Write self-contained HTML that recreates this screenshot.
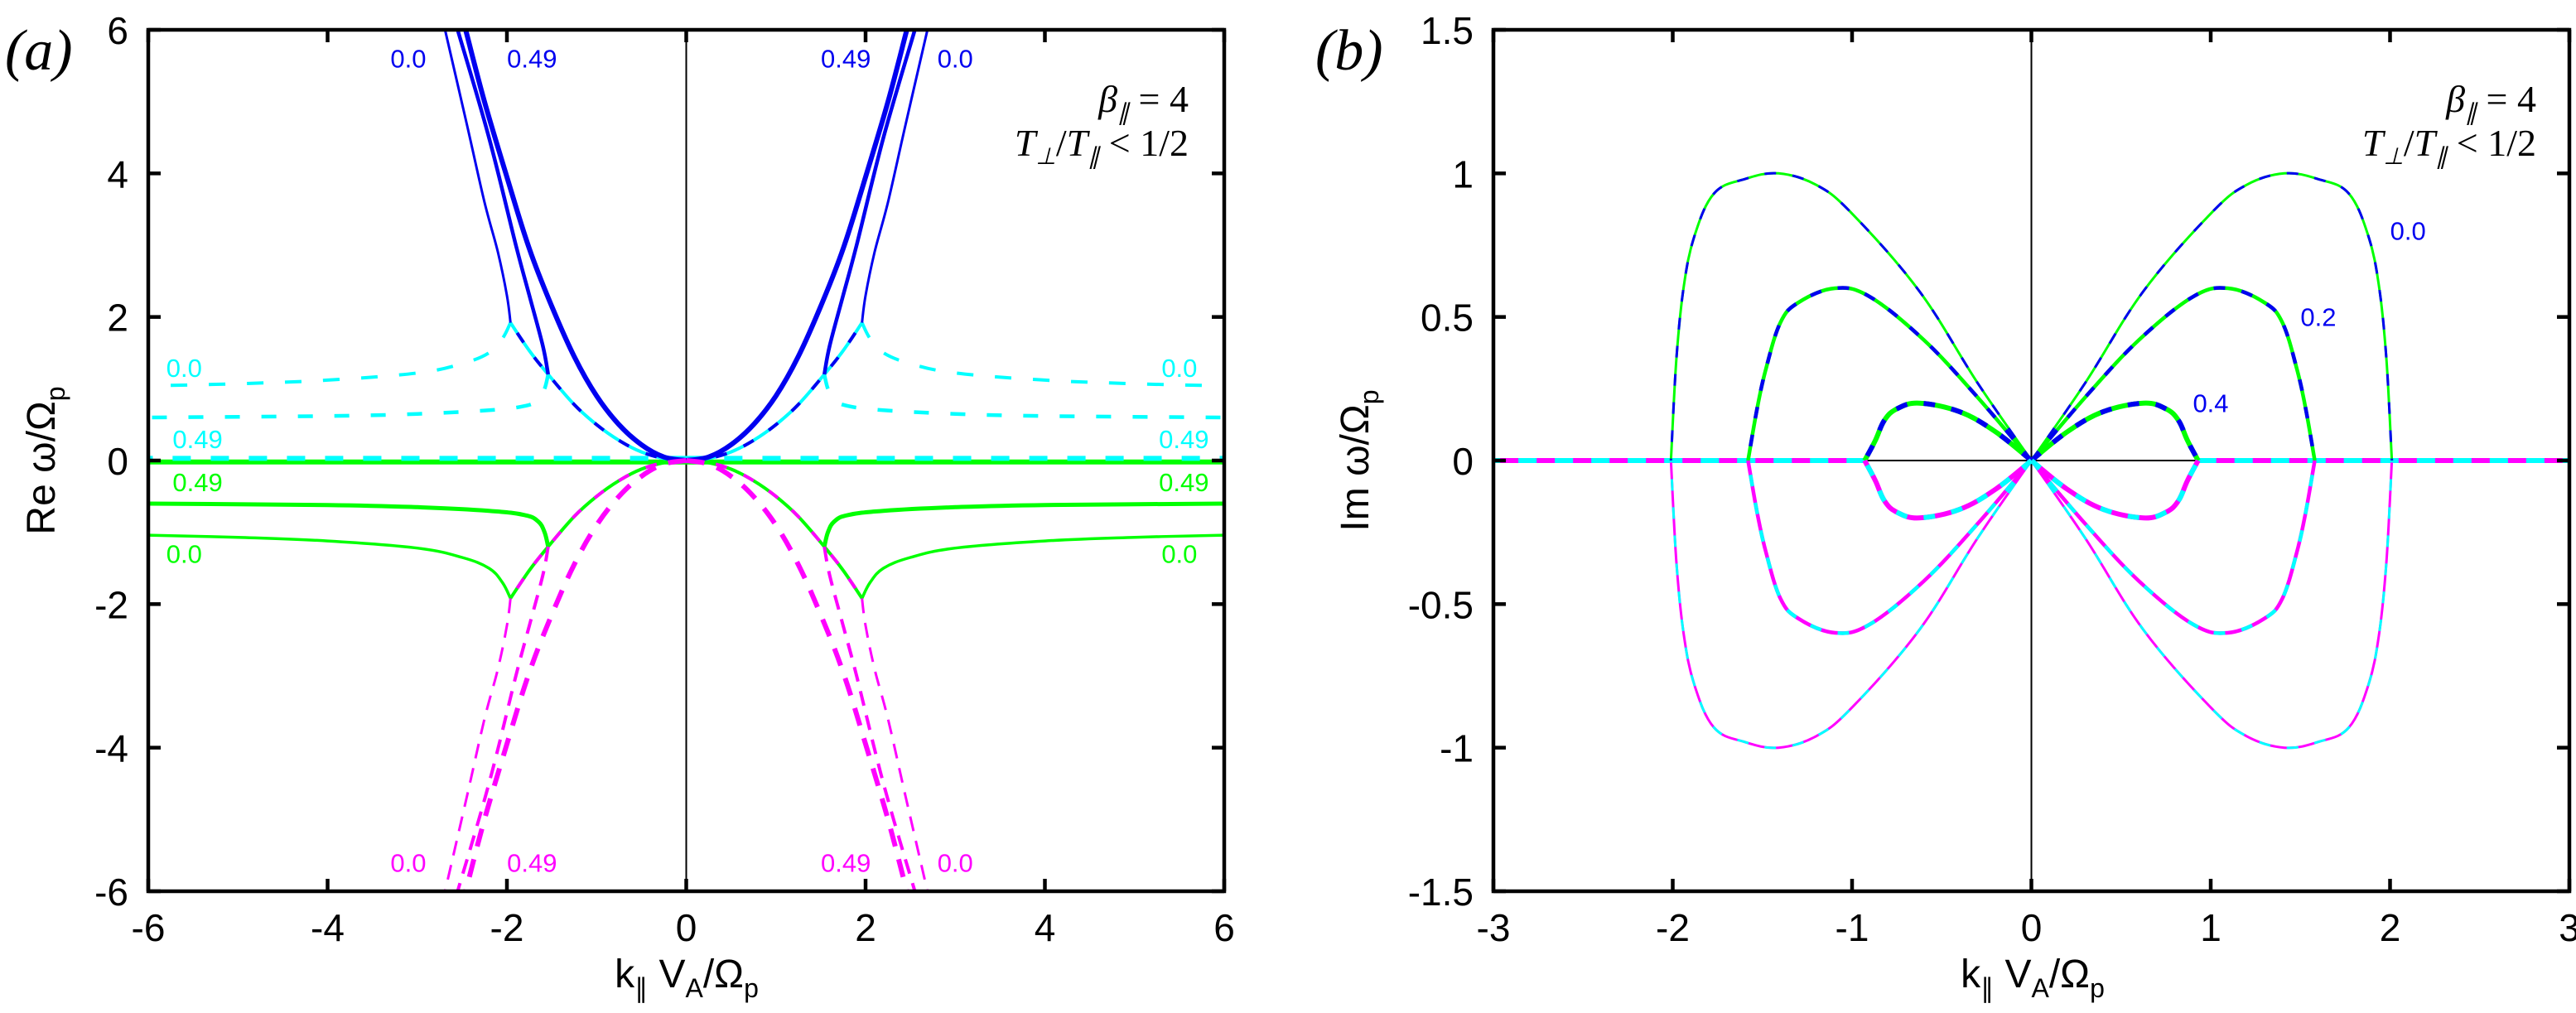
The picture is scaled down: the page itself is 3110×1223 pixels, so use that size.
<!DOCTYPE html>
<html><head><meta charset="utf-8">
<style>
html,body{margin:0;padding:0;background:#fff;}
svg{display:block;}
text{font-family:"Liberation Sans",sans-serif;}
.serif{font-family:"Liberation Serif",serif;font-style:italic;}
</style></head>
<body>
<svg id="fig" width="3110" height="1223" viewBox="0 0 3110 1223" xmlns="http://www.w3.org/2000/svg">
<defs>
<clipPath id="clipA"><rect x="179" y="36" width="1299" height="1040"/></clipPath>
<clipPath id="clipB"><rect x="1803" y="36" width="1299" height="1040"/></clipPath>
</defs>
<g id="gA"></g>
<g id="gB"></g>
</svg>
<script>
// ---- Panel (a) data (right half, mirrored for x<0) ----
const aXTicks=[-6,-4,-2,0,2,4,6];
const aYTicks=[-6,-4,-2,0,2,4,6];
const thickX=[0,0.25,0.5,0.75,1,1.25,1.5,1.75,2,2.25,2.45,2.5];
const thickY=[0,0.05,0.22,0.5,0.9,1.45,2.15,2.95,3.95,5.0,5.95,6.2];
const parX=[0,0.25,0.5,0.75,1,1.25,1.54,1.75,1.96];
const parY=[0,0.03,0.12,0.28,0.5,0.78,1.2,1.53,1.92];
const midX=[1.54,1.6,1.75,1.9,2.2,2.55];
const midY=[1.2,1.6,2.3,3.0,4.5,6];
const thinX=[1.96,2.0,2.1,2.25,2.45,2.69];
const thinY=[1.92,2.3,2.9,3.6,4.7,6];
const cyThinX=[1.96,2.05,2.2,2.5,3,4,5,6];
const cyThinY=[1.92,1.7,1.5,1.35,1.22,1.12,1.07,1.04];
const cyMidX=[1.54,1.58,1.65,1.8,2.2,3,4,6];
const cyMidY=[1.2,1.0,0.85,0.76,0.7,0.65,0.62,0.6];
const flatCyanY=0.03, flatGreenY=-0.02;
// ---- Panel (b) data ----
const bXTicks=[-3,-2,-1,0,1,2,3];
const bYTicks=[-1.5,-1,-0.5,0,0.5,1,1.5];
const lobe0X=[0,0.3,0.625,1.0,1.2,1.41,1.6,1.77,1.88,1.94,1.98,2.01];
const lobe0Y=[0,0.27,0.59,0.86,0.96,1.0,0.98,0.93,0.78,0.6,0.35,0];
const lobe2X=[0,0.3,0.6,0.9,1.095,1.3,1.4,1.48,1.53,1.58];
const lobe2Y=[0,0.22,0.42,0.57,0.6,0.55,0.48,0.32,0.18,0];
const lobe4X=[0,0.2,0.4,0.625,0.75,0.82,0.87,0.93];
const lobe4Y=[0,0.1,0.17,0.2,0.18,0.14,0.07,0];

const NS="http://www.w3.org/2000/svg";
const BLUE="#0000f0",CYAN="#00ffff",GREEN="#00ff00",MAG="#ff00ff";
function mk(tag,attrs,parent){const e=document.createElementNS(NS,tag);for(const k in attrs)e.setAttribute(k,attrs[k]);parent.appendChild(e);return e;}

function panel(g,x0,x1,y0,y1,xmin,xmax,ymin,ymax,clip){
  const sx=v=>x0+(v-xmin)/(xmax-xmin)*(x1-x0);
  const sy=v=>y1-(v-ymin)/(ymax-ymin)*(y1-y0);
  const plot=mk('g',{'clip-path':'url(#'+clip+')'},g);
  
  
  return {sx,sy,plot};
}
function smoothPath(pts){
  let d='M'+pts[0][0].toFixed(1)+','+pts[0][1].toFixed(1);
  for(let i=0;i<pts.length-1;i++){
    const p0=pts[Math.max(0,i-1)],p1=pts[i],p2=pts[i+1],p3=pts[Math.min(pts.length-1,i+2)];
    const t=0.18;
    const c1=[p1[0]+(p2[0]-p0[0])*t,p1[1]+(p2[1]-p0[1])*t];
    const c2=[p2[0]-(p3[0]-p1[0])*t,p2[1]-(p3[1]-p1[1])*t];
    d+='C'+c1[0].toFixed(1)+','+c1[1].toFixed(1)+' '+c2[0].toFixed(1)+','+c2[1].toFixed(1)+' '+p2[0].toFixed(1)+','+p2[1].toFixed(1);
  }
  return d;
}
function line(P,xs,ys,sgnX,sgnY,color,w,dash,name){
  const pts=xs.map((x,i)=>[P.sx(sgnX*x),P.sy(sgnY*ys[i])]);
  const a={d:smoothPath(pts),fill:'none',stroke:color,'stroke-width':w,'stroke-linejoin':'round'};
  if(dash)a['stroke-dasharray']=dash;
  const e=mk('path',a,P.plot);
  
  
  return e;
}
function axes(g,P,x0,x1,y0,y1,xt,yt,fmt){
  const fr=mk('rect',{x:x0,y:y0,width:x1-x0,height:y1-y0,fill:'none',stroke:'#000','stroke-width':4.5},g);
  
  
  xt.forEach(v=>{
    const X=P.sx(v);
    mk('line',{x1:X,y1:y1,x2:X,y2:y1-15,stroke:'#000','stroke-width':4.5},g);
    mk('line',{x1:X,y1:y0,x2:X,y2:y0+15,stroke:'#000','stroke-width':4.5},g);
    const t=mk('text',{x:X,y:y1+60,'font-size':46,'text-anchor':'middle'},g);
    t.textContent=fmt(v);
    
    
  });
  yt.forEach(v=>{
    const Y=P.sy(v);
    mk('line',{x1:x0,y1:Y,x2:x0+15,y2:Y,stroke:'#000','stroke-width':4.5},g);
    mk('line',{x1:x1,y1:Y,x2:x1-15,y2:Y,stroke:'#000','stroke-width':4.5},g);
    const t=mk('text',{x:x0-24,y:Y+17,'font-size':46,'text-anchor':'end'},g);
    t.textContent=fmt(v);
    
    
  });
}
function label(g,P,x,y,txt,color,name){
  const t=mk('text',{x:P.sx(x),y:P.sy(y)+11,'font-size':31,'text-anchor':'middle',fill:color},g);
  t.textContent=txt;
  
  
}
function annot(g,xr){
  const t1=mk('text',{x:xr,y:135,'font-size':46,'text-anchor':'end',class:'serif'},g);
  t1.innerHTML='β<tspan font-size="28" dy="10">∥</tspan><tspan dy="-10" font-style="normal"> = 4</tspan>';
  
  
  const t2=mk('text',{x:xr,y:188,'font-size':46,'text-anchor':'end',class:'serif'},g);
  t2.innerHTML='T<tspan font-size="28" dy="10">⊥</tspan><tspan dy="-10" font-style="normal">/</tspan>T<tspan font-size="28" dy="10">∥</tspan><tspan dy="-10" font-style="normal"> &lt; 1/2</tspan>';
  
  
}
function titles(g,cx,cy,xlab,ytext){
  const xt=mk('text',{x:cx,y:1192,'font-size':48,'text-anchor':'middle'},g);
  xt.innerHTML='k<tspan font-size="32" dy="12">∥</tspan><tspan dy="-12"> V</tspan><tspan font-size="32" dy="12">A</tspan><tspan dy="-12">/Ω</tspan><tspan font-size="32" dy="12">p</tspan>';
  
  
  const yt=mk('text',{x:0,y:0,'font-size':48,'text-anchor':'middle',transform:'translate('+xlab+','+cy+') rotate(-90)'},g);
  yt.innerHTML=ytext+'  ω/Ω<tspan font-size="32" dy="12">p</tspan>';
  
  
}

// ===== Panel A =====
const gA=document.getElementById('gA');
const A=panel(gA,179,1478,36,1076,-6,6,-6,6,'clipA');
mk('line',{x1:A.sx(0),y1:36,x2:A.sx(0),y2:1076,stroke:'#000','stroke-width':2},A.plot);
[1,-1].forEach(s=>{
  line(A,[0,6],[flatGreenY,flatGreenY],s,1,GREEN,6,null,'green-flat-0.49');
  line(A,[0,6],[flatCyanY,flatCyanY],s,1,CYAN,6,'22,24','cyan-flat-0.49');
  line(A,cyThinX,cyThinY,s,1,CYAN,4,'20,26','cyan-dashed-0.0');
  line(A,cyMidX,cyMidY,s,1,CYAN,4.5,'18,26','cyan-dashed-mid');
  line(A,cyThinX,cyThinY,s,-1,GREEN,3.5,null,'green-solid-0.0');
  line(A,cyMidX,cyMidY,s,-1,GREEN,5,null,'green-solid-mid');
  line(A,parX,parY,s,1,CYAN,4,null,'cyan-parabola');
  line(A,parX,parY,s,1,BLUE,4,'14,22','blue-parabola-dashed');
  line(A,parX,parY,s,-1,GREEN,4,null,'green-parabola');
  line(A,parX,parY,s,-1,MAG,4,'14,22','magenta-parabola-dashed');
  line(A,thickX,thickY,s,1,BLUE,6,null,'blue-solid-0.49');
  line(A,midX,midY,s,1,BLUE,4.5,null,'blue-solid-mid');
  line(A,thinX,thinY,s,1,BLUE,3,null,'blue-solid-0.0');
  line(A,thickX,thickY,s,-1,MAG,6,'22,16','magenta-dashed-0.49');
  line(A,midX,midY,s,-1,MAG,4,'18,12','magenta-dashed-mid');
  line(A,thinX,thinY,s,-1,MAG,3,'18,12','magenta-dashed-0.0');
});
axes(gA,A,179,1478,36,1076,aXTicks,aYTicks,v=>String(v));
label(gA,A,-3.1,5.6,'0.0',BLUE,'label-blue-0.0');
label(gA,A,-1.72,5.6,'0.49',BLUE,'label-blue-0.49');
label(gA,A,1.78,5.6,'0.49',BLUE,'label-blue-0.49');
label(gA,A,3.0,5.6,'0.0',BLUE,'label-blue-0.0');
label(gA,A,-5.6,1.29,'0.0',CYAN,'label-cyan-0.0');
label(gA,A,5.5,1.29,'0.0',CYAN,'label-cyan-0.0');
label(gA,A,-5.45,0.3,'0.49',CYAN,'label-cyan-0.49');
label(gA,A,5.55,0.3,'0.49',CYAN,'label-cyan-0.49');
label(gA,A,-5.45,-0.3,'0.49',GREEN,'label-green-0.49');
label(gA,A,5.55,-0.3,'0.49',GREEN,'label-green-0.49');
label(gA,A,-5.6,-1.3,'0.0',GREEN,'label-green-0.0');
label(gA,A,5.5,-1.3,'0.0',GREEN,'label-green-0.0');
label(gA,A,-3.1,-5.6,'0.0',MAG,'label-magenta-0.0');
label(gA,A,-1.72,-5.6,'0.49',MAG,'label-magenta-0.49');
label(gA,A,1.78,-5.6,'0.49',MAG,'label-magenta-0.49');
label(gA,A,3.0,-5.6,'0.0',MAG,'label-magenta-0.0');
annot(gA,1435);
titles(gA,829,556,66,'Re');
const pa=mk('text',{x:6,y:84,'font-size':70,class:'serif'},gA);
pa.textContent='(a)';



// ===== Panel B =====
const gB=document.getElementById('gB');
const B=panel(gB,1803,3102,36,1076,-3,3,-1.5,1.5,'clipB');
mk('line',{x1:B.sx(0),y1:36,x2:B.sx(0),y2:1076,stroke:'#000','stroke-width':2},B.plot);
mk('line',{x1:B.sx(-1),y1:B.sy(0),x2:B.sx(1),y2:B.sy(0),stroke:'#000','stroke-width':2},B.plot);
[1,-1].forEach(s=>{
  line(B,[0.93,3],[0,0],s,1,MAG,6,null,'magenta-zero-line');
  line(B,[0.93,3],[0,0],s,1,CYAN,6,'22,22','cyan-zero-dashed');
  [[lobe0X,lobe0Y,3,'0.0'],[lobe2X,lobe2Y,4.5,'0.2'],[lobe4X,lobe4Y,6,'0.4']].forEach(L=>{
    line(B,L[0],L[1],s,1,GREEN,L[2],null,'green-lobe-'+L[3]);
    line(B,L[0],L[1],s,1,BLUE,L[2],'14,20','blue-lobe-dashed-'+L[3]);
    line(B,L[0],L[1],s,-1,MAG,L[2],null,'magenta-lobe-'+L[3]);
    line(B,L[0],L[1],s,-1,CYAN,L[2],'14,20','cyan-lobe-dashed-'+L[3]);
  });
});
axes(gB,B,1803,3102,36,1076,bXTicks,bYTicks,v=>String(v));
label(gB,B,2.1,0.8,'0.0',BLUE,'label-lobe-0.0');
label(gB,B,1.6,0.5,'0.2',BLUE,'label-lobe-0.2');
label(gB,B,1.0,0.2,'0.4',BLUE,'label-lobe-0.4');
annot(gB,3062);
titles(gB,2454,556,1652,'Im');
const pb=mk('text',{x:1588,y:84,'font-size':70,class:'serif'},gB);
pb.textContent='(b)';


</script>
</body></html>
